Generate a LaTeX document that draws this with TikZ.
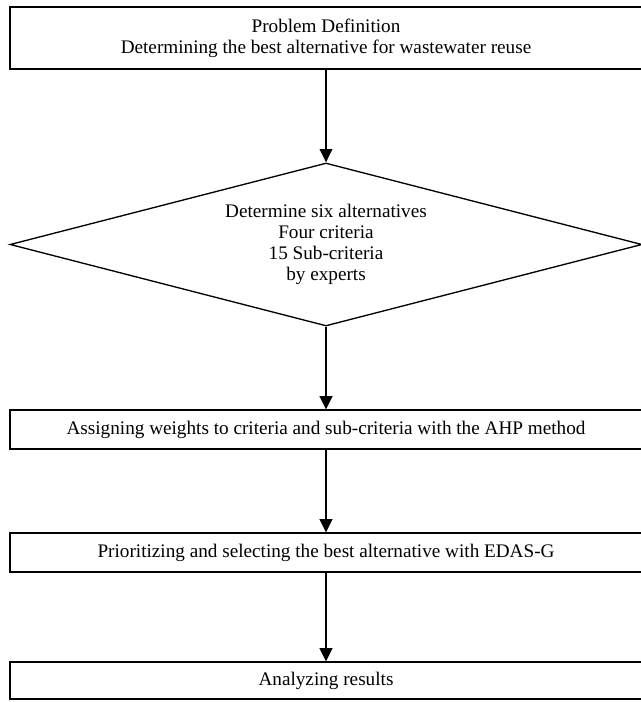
\documentclass[tikz,border=0pt]{standalone}
\usepackage{fontspec}
\setmainfont{Liberation Serif}
\usetikzlibrary{positioning,shapes.geometric,arrows.meta}
\tikzset{box/.style = {rectangle,draw,line width=0.8pt,minimum width=632*0.75pt,inner sep=0pt,align=center},
         diam/.style = {diamond,draw,line width=1pt,aspect=3.9,minimum width=632*0.75pt,minimum height=163*0.75pt,inner sep=0pt,align=center},
         arr/.style = {line width=1.3pt,-{Triangle[length=10pt,width=9.5pt]}}}

\begin{document}
\begin{tikzpicture}[x=0.75pt,y=-0.75pt,font=\fontsize{14.4}{15.8}\selectfont]
        \useasboundingbox (0,0) rectangle (641,702);
        \begin{scope}
            \node [box,minimum height=62*0.75pt] (def) at (326,38) {Problem Definition\\Determining the best alternative for wastewater reuse};
            \node [diam] (alt) at (326,244.5) {Determine six alternatives\\Four criteria\\15 Sub-criteria\\by experts};
            \node [box,minimum height=39*0.75pt] (ahp) at (326,429.5) {Assigning weights to criteria and sub-criteria with the AHP method};
            \node [box,minimum height=39*0.75pt] (edas) at (326,552.5) {Prioritizing and selecting the best alternative with EDAS-G};
            \node [box,minimum height=37*0.75pt] (res) at (326,680.5) {Analyzing results};

            \draw [arr] (def) -- (alt);
            \draw [arr] (alt) -- (ahp);
            \draw [arr] (ahp) -- (edas);
            \draw [arr] (edas) -- (res);
        \end{scope}
    \end{tikzpicture}
\end{document}
